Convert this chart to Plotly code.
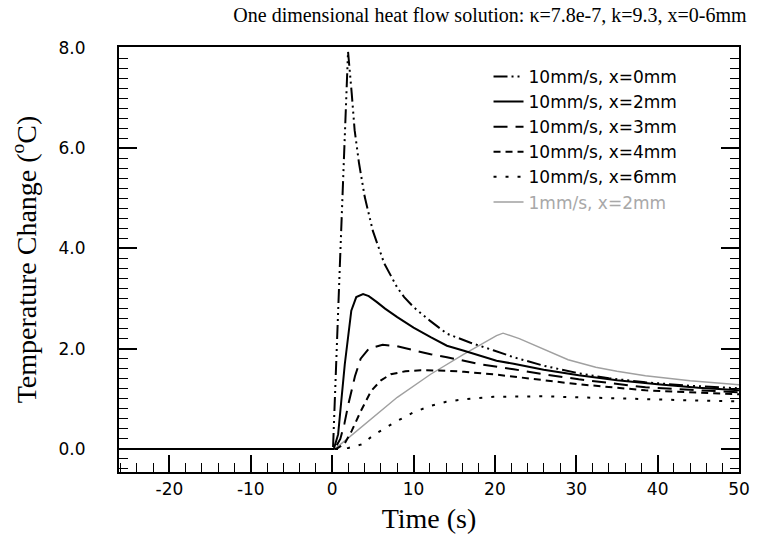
import plotly.graph_objects as go

# ---- data ----
t_x0 = [-26.2, 0.0, 0.1, 1.0, 1.95, 2.4, 2.76, 3.3, 4.0, 5.0, 6.4, 8.0, 8.85, 10.0, 12.0, 14.1, 17.0, 19.8, 22.3, 26.0, 30.3, 34.0, 38.5, 44.0, 50.0]
v_x0 = [0.0, 0.0, 0.0, 3.9, 7.93, 7.1, 6.36, 5.7, 5.03, 4.35, 3.7, 3.22, 3.03, 2.83, 2.56, 2.3, 2.12, 1.97, 1.83, 1.66, 1.51, 1.41, 1.33, 1.26, 1.21]

t_x2 = [-26.2, 0.2, 0.73, 1.55, 2.35, 2.96, 3.8, 4.5, 5.5, 6.5, 8.0, 10.0, 12.1, 14.1, 16.2, 20.2, 22.3, 26.0, 30.3, 35.0, 40.0, 45.0, 50.0]
v_x2 = [0.0, 0.0, 0.29, 1.69, 2.76, 3.03, 3.09, 3.05, 2.93, 2.8, 2.63, 2.42, 2.23, 2.06, 1.96, 1.76, 1.7, 1.58, 1.47, 1.37, 1.29, 1.22, 1.17]

t_x3 = [-26.2, 0.3, 1.0, 1.5, 2.0, 2.8, 3.5, 4.5, 6.2, 8.0, 10.0, 12.1, 14.1, 18.2, 22.3, 26.0, 30.3, 38.5, 44.0, 50.0]
v_x3 = [0.0, 0.0, 0.2, 0.5, 0.9, 1.45, 1.8, 2.0, 2.08, 2.05, 1.97, 1.89, 1.83, 1.69, 1.59, 1.49, 1.39, 1.23, 1.18, 1.13]

t_x4 = [-26.2, 0.5, 1.5, 2.4, 3.5, 4.8, 6.0, 7.2, 9.0, 10.9, 14.1, 16.2, 19.8, 22.3, 26.0, 30.3, 38.5, 44.0, 50.0]
v_x4 = [0.0, 0.0, 0.1, 0.36, 0.75, 1.16, 1.37, 1.49, 1.55, 1.57, 1.56, 1.54, 1.49, 1.44, 1.37, 1.29, 1.17, 1.13, 1.09]

t_x6 = [-26.2, 1.0, 2.0, 3.6, 5.2, 8.0, 10.0, 12.1, 14.0, 16.2, 19.8, 22.3, 26.0, 30.3, 38.5, 44.0, 50.0]
v_x6 = [0.0, 0.0, 0.02, 0.09, 0.29, 0.56, 0.73, 0.86, 0.94, 0.99, 1.04, 1.05, 1.05, 1.03, 0.99, 0.97, 0.95]

t_slow = [-26.2, 0.3, 2.0, 4.0, 8.0, 12.1, 16.2, 20.2, 21.0, 23.0, 26.3, 29.0, 32.4, 35.0, 38.5, 44.0, 50.0]
v_slow = [0.0, 0.0, 0.22, 0.49, 1.03, 1.49, 1.89, 2.26, 2.31, 2.2, 1.96, 1.78, 1.63, 1.55, 1.46, 1.36, 1.28]

x_tick_vals = [-20, -10, 0, 10, 20, 30, 40, 50]
x_tick_labels = ["-20", "-10", "0", "10", "20", "30", "40", "50"]

names = ["10mm/s, x=0mm", "10mm/s, x=2mm", "10mm/s, x=3mm",
         "10mm/s, x=4mm", "10mm/s, x=6mm", "1mm/s, x=2mm"]

fig = go.Figure()

# gray slow-scan curve drawn first (underneath)
fig.add_trace(go.Scatter(x=t_slow, y=v_slow, mode="lines",
                         name="<span style='color:#a8a8a8'>" + names[5] + "</span>",
                         line=dict(color="#a0a0a0", width=1.4), legendrank=6))

black_series = [
    (t_x0, v_x0, names[0], "14px,4px,2px,4px,2px,4px,2px,4px", 1),
    (t_x2, v_x2, names[1], "solid", 2),
    (t_x3, v_x3, names[2], "14px,8px", 3),
    (t_x4, v_x4, names[3], "7px,5px", 4),
    (t_x6, v_x6, names[4], "3px,9px", 5),
]
for tx, vy, nm, dash, rk in black_series:
    fig.add_trace(go.Scatter(x=tx, y=vy, mode="lines", name=nm,
                             line=dict(color="black", width=2, dash=dash),
                             legendrank=rk))

tick_font = dict(family="DejaVu Sans", size=17, color="black")

fig.update_layout(
    width=762, height=545,
    margin=dict(l=119, r=15, t=47, b=73),
    paper_bgcolor="white", plot_bgcolor="white",
    title=dict(text="One dimensional heat flow solution: \u03ba=7.8e-7, k=9.3, x=0-6mm",
               font=dict(family="Liberation Serif", size=20, color="black"),
               x=0.643, xref="container", xanchor="center",
               y=0.972, yref="container", yanchor="middle"),
    legend=dict(x=0.596, y=0.972, xanchor="left", yanchor="top",
                bgcolor="rgba(0,0,0,0)", borderwidth=0,
                font=dict(family="DejaVu Sans", size=17, color="black")),
    showlegend=True,
)

fig.update_xaxes(
    range=[-26.2, 50.0],
    tickmode="array", tickvals=x_tick_vals, ticktext=x_tick_labels,
    ticks="inside", ticklen=17, tickwidth=1.5, tickcolor="black",
    minor=dict(dtick=2, tick0=0, ticks="inside", ticklen=9, tickwidth=1.2, tickcolor="black"),
    showline=True, linecolor="black", linewidth=2, mirror=True,
    showgrid=False, zeroline=False,
    tickfont=tick_font, ticklabelstandoff=1,
    title=dict(text="Time (s)", font=dict(family="Liberation Serif", size=28, color="black"),
               standoff=10),
)

fig.update_yaxes(
    range=[-0.46, 8.02],
    tick0=0, dtick=2, tickformat=".1f",
    ticks="inside", ticklen=18, tickwidth=1.5, tickcolor="black",
    minor=dict(dtick=0.2, tick0=0, ticks="inside", ticklen=9, tickwidth=1.2, tickcolor="black"),
    showline=True, linecolor="black", linewidth=2, mirror="allticks",
    showgrid=False, zeroline=False,
    tickfont=tick_font, ticklabelstandoff=28,
    title=dict(text="Temperature Change (<sup>o</sup>C)",
               font=dict(family="Liberation Serif", size=28, color="black"),
               standoff=14),
)

fig.write_html("out.html")
